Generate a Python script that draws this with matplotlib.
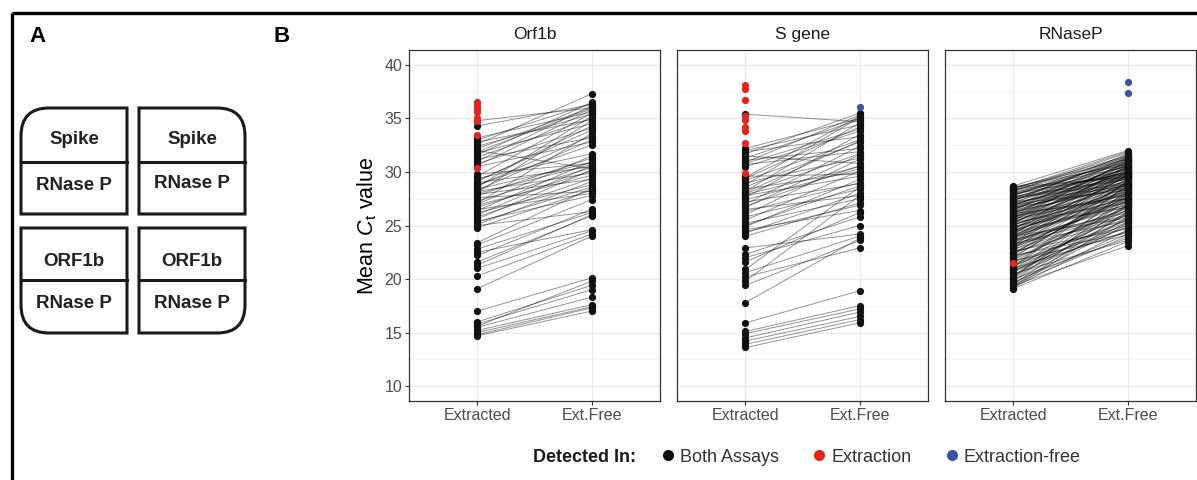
import numpy as np
import matplotlib.pyplot as plt
from matplotlib.path import Path
from matplotlib.patches import PathPatch
from matplotlib.lines import Line2D
from matplotlib.collections import LineCollection

plt.rcParams['font.family'] = ['Liberation Sans', 'DejaVu Sans']
plt.rcParams['mathtext.fontset'] = 'custom'
plt.rcParams['mathtext.rm'] = 'Liberation Sans'
plt.rcParams['mathtext.it'] = 'Liberation Sans:italic'

nan = np.nan

categories = ["Extracted", "Ext.Free"]
facets = ["Orf1b", "S gene", "RNaseP"]
groups = ["Both Assays", "Extraction", "Extraction-free"]
group_colors = ["#111111", "#E8221C", "#3852A8"]

# paired mean Ct values (nan = not detected in that assay)
orf_extracted = [14.7, 14.8, 15.0, 15.2, 15.5, 15.6, 15.8, 16.0, 17.0, 19.1,
                 20.3, 21.0, 21.3, 21.6, 22.2, 22.5, 22.8, 23.2, 23.4, 24.8,
                 25.0, 25.1, 25.3, 25.6, 25.8, 26.0, 26.2, 26.4, 26.7, 26.9,
                 27.1, 27.3, 27.6, 27.8, 28.0, 28.1, 28.2, 28.4, 28.6, 28.8,
                 29.0, 29.2, 29.4, 29.6, 29.8, 30.6, 30.8, 31.0, 31.2, 31.4,
                 31.6, 31.8, 32.0, 32.2, 32.4, 32.6, 32.8, 33.0, 33.2, 34.3,
                 34.8, 27.9, 28.3, 26.5, 29.1, 30.5, 31.9, 25.4, 27.0, 28.7,
                 36.5, 36.2, 35.9, 35.6, 35.0, 34.8, 33.5, 30.4]
orf_free = [17.0, 17.3, 17.4, 17.6, 18.3, 19.8, 19.0, 19.4, 20.1, 24.0,
            24.2, 24.5, 26.0, 25.9, 26.5, 24.6, 26.2, 27.4, 28.5, 28.3,
            26.3, 29.1, 28.6, 30.2, 29.4, 30.6, 28.8, 31.0, 30.1, 29.7,
            33.6, 30.4, 28.2, 31.3, 30.7, 34.8, 29.9, 30.9, 35.2, 32.5,
            30.5, 33.9, 31.7, 35.5, 30.8, 35.8, 34.1, 36.2, 33.2, 35.0,
            36.5, 34.5, 30.3, 36.0, 35.4, 37.3, 34.9, 36.4, 35.6, 36.3,
            36.0, 29.3, 33.0, 28.0, 34.3, 32.8, 35.9, 27.8, 31.5, 33.4,
            nan, nan, nan, nan, nan, nan, nan, nan]

s_extracted = [13.6, 13.9, 14.2, 14.5, 14.9, 15.1, 15.9, 17.8, 19.4, 19.8,
               20.2, 20.6, 20.9, 21.6, 22.0, 22.3, 22.9, 24.0, 24.3, 24.6,
               24.9, 25.2, 25.5, 25.8, 26.0, 26.3, 26.5, 26.8, 27.0, 27.2,
               27.4, 27.6, 27.8, 28.0, 28.2, 28.4, 28.6, 28.8, 29.0, 29.2,
               29.4, 29.6, 30.5, 30.7, 30.9, 31.1, 31.3, 31.5, 31.7, 31.9,
               32.0, 32.2, 35.4, 25.0, 26.7, 28.1, 29.5, 27.9, 24.4, 30.8,
               38.1, 37.8, 36.7, 35.2, 34.9, 34.2, 33.8, 32.7, 29.9,
               nan]
s_free = [15.9, 16.2, 16.5, 16.9, 17.2, 17.5, 18.9, 23.8, 23.6, 27.8,
          22.9, 24.0, 28.6, 26.2, 25.0, 25.8, 24.2, 27.1, 28.0, 26.4,
          29.3, 27.5, 30.1, 28.4, 31.2, 29.0, 27.8, 30.6, 32.4, 28.9,
          30.3, 33.5, 29.6, 31.7, 34.6, 30.0, 32.8, 35.1, 31.3, 33.0,
          34.2, 29.8, 33.8, 31.9, 35.3, 32.2, 34.9, 30.8, 35.5, 33.3,
          34.4, 35.0, 34.7, 28.7, 31.6, 32.9, 35.2, 30.5, 26.9, 34.0,
          nan, nan, nan, nan, nan, nan, nan, nan, nan,
          36.1]

rnp_extracted = [19.1, 19.2, 19.2, 19.4, 19.5, 19.7, 19.8, 19.9, 20.0, 20.1,
                 20.2, 20.4, 20.5, 20.7, 20.8, 20.9, 21.0, 21.1, 21.2, 21.4,
                 21.5, 21.6, 21.7, 21.9, 22.0, 22.1, 22.3, 22.4, 22.5, 22.6,
                 22.7, 22.8, 22.9, 23.0, 23.1, 23.2, 23.3, 23.4, 23.5, 23.6,
                 23.7, 23.8, 23.9, 24.0, 24.1, 24.2, 24.2, 24.3, 24.4, 24.5,
                 24.6, 24.6, 24.7, 24.8, 24.9, 25.0, 25.1, 25.2, 25.3, 25.3,
                 25.4, 25.5, 25.6, 25.7, 25.7, 25.8, 25.9, 26.0, 26.1, 26.1,
                 26.2, 26.3, 26.4, 26.4, 26.5, 26.6, 26.7, 26.8, 26.8, 26.9,
                 27.0, 27.1, 27.2, 27.2, 27.3, 27.4, 27.5, 27.5, 27.6, 27.7,
                 27.8, 27.9, 27.9, 28.0, 28.1, 28.2, 28.2, 28.3, 28.4, 28.5,
                 28.6, 28.7, 22.2, 23.3, 24.0, 25.1, 20.6, 21.3, 26.3, 27.0,
                 19.3, 19.6, 20.3, 20.8, 21.2, 21.8, 22.1, 22.5, 22.9, 23.2,
                 23.5, 23.7, 23.9, 24.1, 24.3, 24.5, 24.7, 24.9, 25.0, 25.2,
                 25.4, 25.5, 25.8, 25.9, 26.0, 26.2, 26.5, 26.6, 26.9, 27.1,
                 27.3, 27.4, 27.6, 27.8, 28.0, 28.3, 28.5, 28.6, 19.5, 20.9,
                 21.6, 22.4, 23.0, 23.6, 24.4, 25.6, 26.7, 27.7, 28.4, 20.1,
                 nan, nan]
rnp_free = [23.5, 24.6, 25.8, 23.1, 26.9, 24.2, 27.5, 25.3, 23.8, 26.1,
            28.3, 24.9, 23.6, 26.5, 25.2, 27.9, 24.4, 28.8, 26.0, 25.5,
            nan, 27.2, 24.1, 26.8, 28.6, 25.0, 29.1, 26.4, 27.7, 24.7,
            28.0, 25.9, 29.4, 26.6, 27.3, 28.9, 25.4, 30.0, 27.0, 28.4,
            26.2, 29.7, 27.8, 25.7, 28.7, 30.3, 27.4, 29.0, 26.9, 28.2,
            30.6, 27.6, 29.3, 28.5, 26.7, 29.9, 28.1, 30.8, 27.1, 29.5,
            28.8, 30.2, 27.9, 29.6, 31.0, 28.4, 30.5, 29.2, 27.5, 30.9,
            29.8, 28.6, 31.2, 29.4, 30.4, 28.9, 30.7, 29.1, 31.4, 30.1,
            29.7, 31.1, 30.3, 28.7, 31.5, 30.0, 29.5, 31.3, 30.6, 29.3,
            31.6, 30.8, 29.9, 31.0, 30.2, 31.8, 30.5, 31.4, 29.6, 31.2,
            30.7, 32.0, 24.3, 26.0, 27.2, 28.0, 25.6, 24.8, 30.0, 28.3,
            26.3, 25.1, 27.0, 24.5, 29.2, 26.7, 28.4, 25.6, 27.6, 29.8,
            26.4, 28.9, 30.1, 27.3, 29.6, 28.0, 30.7, 27.5, 29.0, 30.4,
            28.2, 31.1, 29.7, 27.8, 30.9, 28.8, 31.3, 29.9, 30.6, 29.4,
            31.7, 30.3, 28.9, 31.2, 29.8, 30.9, 31.5, 29.5, 24.0, 26.2,
            25.3, 27.9, 28.6, 26.8, 30.5, 29.1, 28.5, 30.0, 31.9, 27.7,
            38.4, 37.4]

panel_data = [(orf_extracted, orf_free), (s_extracted, s_free), (rnp_extracted, rnp_free)]

W, H = 1197, 480
fig = plt.figure(figsize=(W / 100, H / 100), dpi=100)

# overlay in pixel coordinates for panel A and frame
over = fig.add_axes([0, 0, 1, 1], zorder=0)
over.set_xlim(0, W)
over.set_ylim(H, 0)
over.axis('off')
over.plot([12, W], [13, 13], color='black', lw=2.4, solid_capstyle='butt')
over.plot([12, 12], [13, H], color='black', lw=2.4, solid_capstyle='butt')
over.text(37, 37, "A", fontsize=16, fontweight='bold', ha='center', va='center')
over.text(282, 37, "B", fontsize=16, fontweight='bold', ha='center', va='center')


def box_path(x0, y0, x1, y1, rounded, r=28):
    start = ((x0 + x1) / 2, y0)
    corners = [('tr', (x1, y0)), ('br', (x1, y1)), ('bl', (x0, y1)), ('tl', (x0, y0))]
    verts = [start]
    codes = [Path.MOVETO]
    pts = [start] + [c[1] for c in corners] + [start]
    for i, (name, p) in enumerate(corners):
        p = np.array(p, float)
        if name == rounded:
            q = np.array(pts[i], float)
            n = np.array(pts[i + 2], float)
            a = p + r * (q - p) / np.linalg.norm(q - p)
            b = p + r * (n - p) / np.linalg.norm(n - p)
            verts += [tuple(a), tuple(p), tuple(b)]
            codes += [Path.LINETO, Path.CURVE3, Path.CURVE3]
        else:
            verts.append(tuple(p))
            codes.append(Path.LINETO)
    verts += [start, start]
    codes += [Path.LINETO, Path.CLOSEPOLY]
    return Path(verts, codes)


boxes = [(21, 108, 127, 214, 'tl', 162, "Spike", 140, 186),
         (139, 108, 245, 214, 'tr', 162, "Spike", 140, 183),
         (21, 228, 127, 333, 'bl', 280, "ORF1b", 261, 303),
         (139, 228, 245, 333, 'br', 280, "ORF1b", 261, 303)]
for x0, y0, x1, y1, rnd, ymid, top_txt, ty1, ty2 in boxes:
    over.add_patch(PathPatch(box_path(x0, y0, x1, y1, rnd), fill=False, lw=2.2,
                             edgecolor='#1a1a1a', joinstyle='miter'))
    over.plot([x0, x1], [ymid, ymid], color='#1a1a1a', lw=2.2)
    over.text((x0 + x1) / 2, ty1, top_txt, fontsize=13.5, fontweight='bold',
              ha='center', va='center', color='#222222')
    over.text((x0 + x1) / 2, ty2, "RNase P", fontsize=13.5, fontweight='bold',
              ha='center', va='center', color='#222222')

# panel B facets
lefts = [409, 677, 945]
pw, top, bottom = 251, 50, 401
for k, (name, (ext, free)) in enumerate(zip(facets, panel_data)):
    ax = fig.add_axes([lefts[k] / W, 1 - bottom / H, pw / W, (bottom - top) / H], zorder=2)
    ext = np.array(ext, float)
    free = np.array(free, float)
    both = ~np.isnan(ext) & ~np.isnan(free)
    only_ext = ~np.isnan(ext) & np.isnan(free)
    only_free = np.isnan(ext) & ~np.isnan(free)
    segs = [[(0, e), (1, f)] for e, f in zip(ext[both], free[both])]
    ax.add_collection(LineCollection(segs, colors='black', alpha=0.42, linewidths=0.7, zorder=2))
    ax.scatter(np.zeros(both.sum()), ext[both], s=27, color=group_colors[0], zorder=3, linewidths=0)
    ax.scatter(np.ones(both.sum()), free[both], s=27, color=group_colors[0], zorder=3, linewidths=0)
    ax.scatter(np.zeros(only_ext.sum()), ext[only_ext], s=27, color=group_colors[1], zorder=4, linewidths=0)
    ax.scatter(np.ones(only_free.sum()), free[only_free], s=27, color=group_colors[2], zorder=4, linewidths=0)

    ax.set_xlim(-0.6, 1.6)
    ax.set_ylim(8.6, 41.4)
    ax.set_xticks([0, 1])
    ax.set_xticklabels(categories)
    ax.set_yticks([10, 15, 20, 25, 30, 35, 40])
    ax.set_yticks([12.5, 17.5, 22.5, 27.5, 32.5, 37.5], minor=True)
    ax.grid(True, which='major', color='#EBEBEB', lw=0.9, zorder=0)
    ax.grid(True, which='minor', axis='y', color='#F2F2F2', lw=0.5, zorder=0)
    ax.set_axisbelow(True)
    ax.tick_params(which='major', length=3, width=0.8, color='#333333',
                   labelsize=11.5, labelcolor='#4D4D4D', pad=2)
    ax.tick_params(which='minor', length=0)
    for sp in ax.spines.values():
        sp.set_color('#333333')
        sp.set_linewidth(0.9)
    ax.set_title(name, fontsize=12.5, pad=8, color='#1a1a1a')
    if k == 0:
        ax.set_ylabel(r"Mean $C_{\mathrm{t}}$ value", fontsize=15.5, labelpad=4)
    else:
        ax.tick_params(axis='y', which='both', left=False, labelleft=False)

# legend
fig.text(533 / W, 1 - 457 / H, "Detected In:", fontsize=13, fontweight='bold',
         va='center', ha='left', color='#1a1a1a')
handles = [Line2D([], [], marker='o', ls='', markersize=8, color=c, markeredgewidth=0)
           for c in group_colors]
fig.legend(handles, groups, ncol=3, frameon=False, loc='center left',
           bbox_to_anchor=(660 / W, 1 - 457 / H), fontsize=13, handlelength=0.9,
           handletextpad=0.2, columnspacing=1.8, labelcolor='#333333',
           borderaxespad=0, borderpad=0)

fig.savefig("out.png", dpi=100)
